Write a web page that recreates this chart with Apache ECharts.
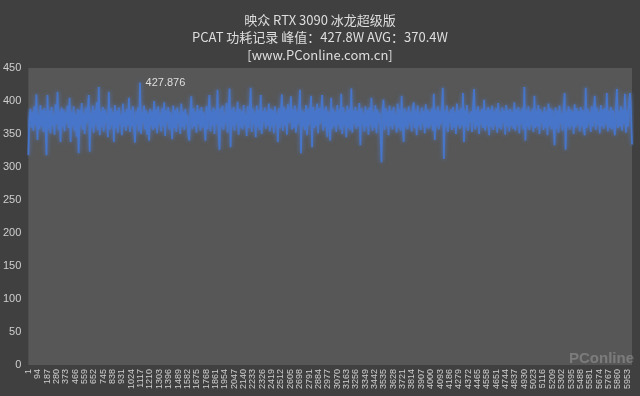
<!DOCTYPE html>
<html>
<head>
<meta charset="utf-8">
<script src="https://cdn.jsdelivr.net/npm/echarts@6/dist/echarts.min.js"></script>
<style>
html, body { margin: 0; padding: 0; background: #404040; }
#chart { width: 640px; height: 396px; }
</style>
</head>
<body>
<div id="chart"></div>
<script>
// PCAT power log, one reading kept every 10 samples
var sampleStep = 10;
var tickStep = 93;
var lastSample = 6000;
var titleLines = ['映众 RTX 3090 冰龙超级版', 'PCAT 功耗记录 峰值：427.8W AVG：370.4W', '[www.PConline.com.cn]'];

var power = [
	318,372,388,360,383,355,392,364,410,341,379,357,394,362,386,353,389,367,318,409,
	358,385,351,391,363,380,349,395,366,414,356,384,338,390,361,387,354,382,368,393,
	359,405,338,383,362,392,355,379,346,388,321,386,364,397,357,381,350,390,366,384,
	409,323,381,360,393,352,386,365,398,356,421,348,384,361,391,354,387,368,380,345,
	414,357,389,363,382,338,394,359,385,352,390,366,379,348,396,361,383,355,388,364,
	405,353,386,362,392,358,337,384,365,390,354,427.876,350,382,367,393,357,386,349,381,
	340,388,363,384,356,400,360,387,351,392,366,380,354,389,362,398,347,385,368,391,
	357,383,364,342,393,359,386,353,390,367,381,350,396,361,384,356,388,365,379,348,
	340,385,407,358,389,362,382,352,394,366,386,355,391,360,383,368,340,392,357,387,
	409,354,384,363,390,350,386,365,417,358,326,389,361,393,356,381,367,397,352,385,
	419,330,387,362,391,355,383,366,399,349,388,360,384,357,394,364,380,347,392,359,
	385,420,353,389,365,382,345,393,361,386,356,409,350,384,368,390,358,383,363,396,
	354,388,362,385,351,392,366,381,338,389,359,384,410,355,391,363,386,349,395,367,
	380,407,357,387,360,393,352,384,365,390,417,321,386,362,382,356,394,348,388,364,
	383,408,330,391,359,385,363,396,351,389,366,381,409,355,387,361,392,346,384,368,
	340,405,358,388,362,383,353,394,365,386,357,411,350,390,363,382,345,393,360,387,
	356,419,352,385,366,391,358,384,362,397,333,389,364,381,354,392,361,386,349,390,
	365,405,355,383,360,394,351,387,367,382,358,307,386,402,356,389,363,384,348,393,
	362,385,357,391,366,380,352,396,360,387,355,408,364,338,389,361,384,357,392,367,
	382,354,388,398,359,385,348,393,363,381,356,390,366,384,351,395,360,387,358,383,
	364,389,355,411,341,386,362,392,357,384,365,388,420,312,385,361,393,353,382,367,
	387,356,391,360,383,350,396,364,385,358,389,363,412,338,386,361,394,355,381,368,
	384,353,390,418,357,386,362,392,350,383,366,388,359,402,355,385,363,391,348,387,
	361,393,356,384,365,389,352,397,360,382,357,390,367,385,349,394,362,386,354,388,
	363,383,358,398,355,387,364,391,351,384,366,389,357,421,340,386,361,392,356,383,
	365,388,353,408,359,385,362,394,350,387,367,382,356,391,360,384,348,396,363,389,
	357,386,364,333,390,358,385,352,393,366,381,355,388,412,326,384,361,392,357,387,
	363,383,350,395,360,389,365,384,354,391,362,386,357,348,420,359,388,366,382,353,
	392,361,385,408,356,390,364,383,351,394,362,387,358,389,366,412,354,384,360,391,
	357,386,365,348,388,418,359,383,362,392,355,387,366,411,352,385,361,393,412,384,
	334
];

var seriesData = [];
for (var i = 0; i < power.length; i++) {
	seriesData.push([i * sampleStep, power[i]]);
}

var chart = echarts.init(document.getElementById('chart'));
var labelColor = '#cfcfcf';

var option = {
	animation: false,
	backgroundColor: '#404040',
	title: {
		text: titleLines.join('\n'),
		left: 'center',
		top: 6,
		textStyle: {
			color: '#dedede',
			fontSize: 13,
			fontWeight: 'normal',
			lineHeight: 17.5,
			fontFamily: 'Noto Sans CJK SC'
		}
	},
	grid: {
		left: 27,
		right: 8,
		top: 68,
		bottom: 31,
		show: true,
		backgroundColor: '#575757',
		borderWidth: 0
	},
	xAxis: {
		type: 'value',
		min: 0,
		max: lastSample,
		interval: tickStep,
		axisLine: { show: false },
		axisTick: { show: false },
		splitLine: { show: false },
		axisLabel: {
			rotate: 90,
			margin: 4,
			fontSize: 9,
			color: labelColor,
			showMaxLabel: false,
			formatter: function (v) { return String(v + 1); }
		}
	},
	yAxis: {
		type: 'value',
		min: 0,
		max: 450,
		interval: 50,
		axisLine: { show: false },
		axisTick: { show: false },
		splitLine: { show: false },
		axisLabel: { color: labelColor, fontSize: 11, margin: 7 }
	},
	series: [{
		type: 'line',
		data: seriesData,
		showSymbol: false,
		symbol: 'none',
		lineStyle: {
			color: '#4675c9',
			width: 1.8,
			shadowColor: 'rgba(80,130,225,0.8)',
			shadowBlur: 4
		},
		markPoint: {
			symbol: 'circle',
			symbolSize: 1,
			itemStyle: { color: 'rgba(0,0,0,0)' },
			label: {
				position: 'right',
				distance: 5,
				color: '#dedede',
				fontSize: 11
			},
			data: [{ type: 'max' }]
		}
	}],
	graphic: [{
		type: 'text',
		right: 6,
		bottom: 30,
		style: {
			text: 'PConline',
			fontSize: 15,
			fontWeight: 'bold',
			fill: 'rgba(255,255,255,0.22)'
		}
	}]
};

chart.setOption(option);
</script>
</body>
</html>
